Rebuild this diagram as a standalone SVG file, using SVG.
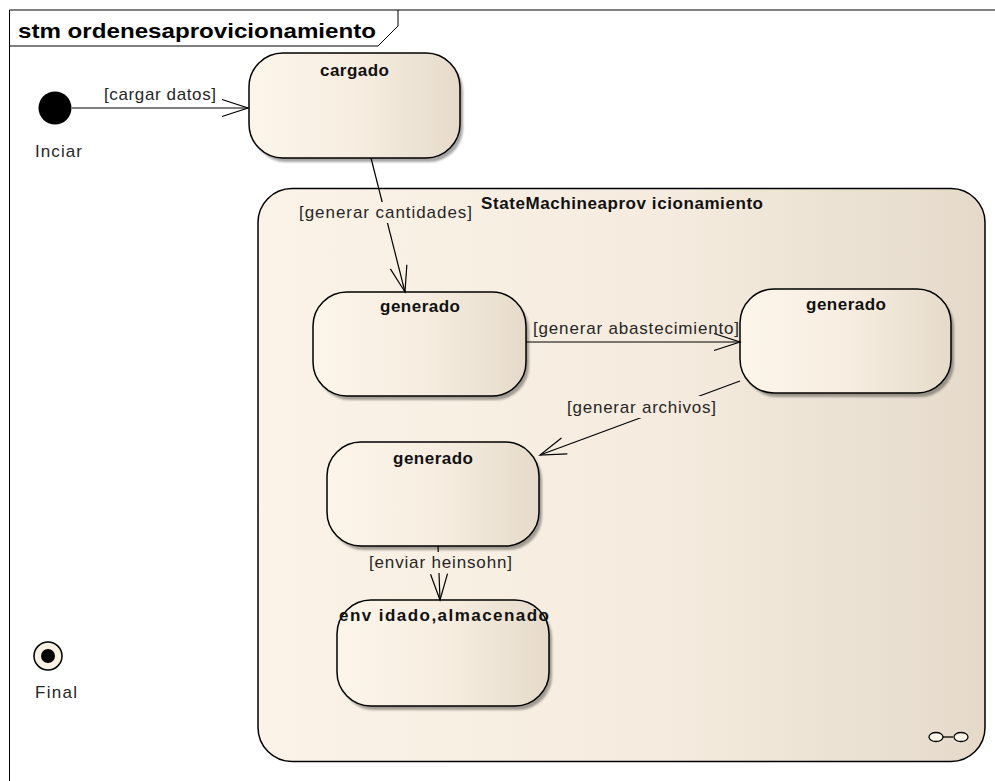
<svg xmlns="http://www.w3.org/2000/svg" width="995" height="781" viewBox="0 0 995 781">
  <style>
    .lbl { font-family: "Liberation Sans", Arial, sans-serif; font-size: 17px; fill: #262626; }
    .ttl { font-family: "Liberation Sans", Arial, sans-serif; font-size: 17px; font-weight: bold; fill: #111; }
    .st { fill: url(#gState); stroke: #000; stroke-width: 1.5; }
    .sh { fill: #000; opacity: 0.35; filter: url(#blur); }
    .edge { fill: none; stroke: #000; stroke-width: 1.2; marker-end: url(#open); }
  </style>
  <defs>
    <linearGradient id="gState" x1="0" y1="0" x2="1" y2="0">
      <stop offset="0" stop-color="#FCF5E9"/>
      <stop offset="0.5" stop-color="#F7EEE1"/>
      <stop offset="1" stop-color="#E6DBCA"/>
    </linearGradient>
    <linearGradient id="gComp" gradientUnits="userSpaceOnUse" x1="258" y1="0" x2="985" y2="0">
      <stop offset="0" stop-color="#FBF3E7"/>
      <stop offset="0.55" stop-color="#F5ECDF"/>
      <stop offset="1" stop-color="#E5DACA"/>
    </linearGradient>
    <filter id="blur" x="-10%" y="-10%" width="120%" height="120%">
      <feGaussianBlur stdDeviation="1.2"/>
    </filter>
    <marker id="open" markerUnits="userSpaceOnUse" viewBox="-28 -11 30 22" refX="0" refY="0" markerWidth="30" markerHeight="22" orient="auto" overflow="visible">
      <path d="M-26,-8.5 L0,0 L-26,8.5" fill="none" stroke="#000" stroke-width="1.2"/>
    </marker>
  </defs>

  <rect width="995" height="781" fill="#fff"/>

  <!-- diagram frame with name tab -->
  <g id="frame">
    <path d="M9.5,781 V10 H995" fill="none" stroke="#000" stroke-width="1"/>
    <path d="M9.5,46 H378 L398,26 V10" fill="none" stroke="#000" stroke-width="1"/>
    <text x="18" y="38" font-family="Liberation Sans, Arial, sans-serif" font-size="21" font-weight="bold" fill="#000" textLength="358" lengthAdjust="spacingAndGlyphs">stm ordenesaprovicionamiento</text>
  </g>

  <!-- composite state -->
  <g id="StateMachineaprovicionamiento">
    <rect x="258" y="188.5" width="727" height="573" rx="34" ry="34" fill="url(#gComp)" stroke="#000" stroke-width="1.5"/>
    <text class="ttl" x="481" y="209" textLength="282" lengthAdjust="spacing">StateMachineaprov icionamiento</text>
    <g fill="#FBF5EA" stroke="#000" stroke-width="1.3">
      <line x1="942" y1="737" x2="953" y2="737"/>
      <ellipse cx="936" cy="737" rx="7" ry="4.5"/>
      <ellipse cx="961" cy="737" rx="7" ry="4.5"/>
    </g>
  </g>

  <!-- initial / final pseudo states -->
  <g id="Inciar">
    <circle cx="55" cy="108" r="16.5" fill="#000"/>
    <text class="lbl" x="35" y="157" textLength="47" lengthAdjust="spacing">Inciar</text>
  </g>
  <g id="Final">
    <circle cx="48" cy="656" r="14" fill="#F7F0E3" stroke="#000" stroke-width="1.5"/>
    <circle cx="48" cy="656" r="7" fill="#000"/>
    <text class="lbl" x="35" y="698" textLength="42" lengthAdjust="spacing">Final</text>
  </g>

  <!-- simple states -->
  <g id="cargado">
    <rect class="sh" x="252" y="57" width="211" height="105" rx="34"/>
    <rect class="st" x="249" y="53" width="211" height="105" rx="34"/>
    <text class="ttl" x="320" y="76" textLength="69" lengthAdjust="spacing">cargado</text>
  </g>
  <g id="generado1">
    <rect class="sh" x="316" y="296" width="213" height="104" rx="34"/>
    <rect class="st" x="313" y="292" width="213" height="104" rx="34"/>
    <text class="ttl" x="380" y="312" textLength="80" lengthAdjust="spacing">generado</text>
  </g>
  <g id="generado2">
    <rect class="sh" x="743" y="293" width="211" height="104" rx="34"/>
    <rect class="st" x="740" y="289" width="211" height="104" rx="34"/>
    <text class="ttl" x="806" y="310" textLength="80" lengthAdjust="spacing">generado</text>
  </g>
  <g id="generado3">
    <rect class="sh" x="330" y="446" width="212" height="104" rx="34"/>
    <rect class="st" x="327" y="442" width="212" height="104" rx="34"/>
    <text class="ttl" x="393" y="464" textLength="80" lengthAdjust="spacing">generado</text>
  </g>
  <g id="envidado_almacenado">
    <rect class="sh" x="340" y="604" width="212" height="106" rx="34"/>
    <rect class="st" x="337" y="600" width="212" height="106" rx="34"/>
    <text class="ttl" x="339" y="621" textLength="210" lengthAdjust="spacing">env idado,almacenado</text>
  </g>

  <!-- transitions -->
  <g id="connectors">
    <line class="edge" x1="72" y1="108" x2="248" y2="108"/>
    <text class="lbl" x="104" y="100" textLength="112" lengthAdjust="spacing">[cargar datos]</text>

    <line class="edge" x1="371" y1="158" x2="405" y2="292"/>
    <rect x="297" y="202" width="177" height="21" fill="url(#gComp)"/>
    <text class="lbl" x="299" y="218" textLength="173" lengthAdjust="spacing">[generar cantidades]</text>

    <line class="edge" x1="526" y1="342" x2="740" y2="342"/>
    <text class="lbl" x="533" y="334" textLength="206" lengthAdjust="spacing">[generar abastecimiento]</text>

    <line class="edge" x1="740" y1="381" x2="540" y2="455"/>
    <rect x="565" y="396" width="153" height="22" fill="url(#gComp)"/>
    <text class="lbl" x="567" y="413" textLength="149" lengthAdjust="spacing">[generar archivos]</text>

    <line class="edge" x1="438" y1="546" x2="440" y2="600"/>
    <rect x="367" y="552" width="147" height="21" fill="url(#gComp)"/>
    <text class="lbl" x="369" y="568" textLength="143" lengthAdjust="spacing">[enviar heinsohn]</text>
  </g>
</svg>
